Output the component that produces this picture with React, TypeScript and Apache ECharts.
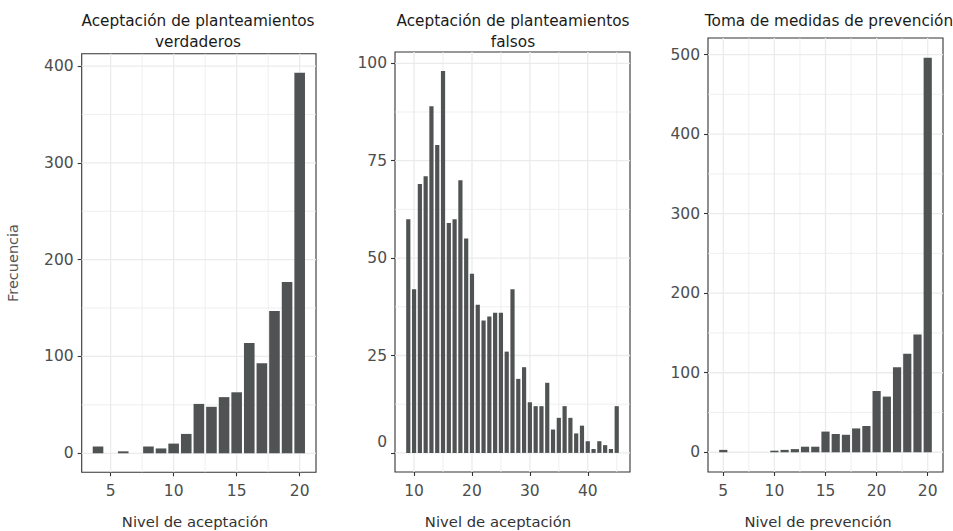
import { useEffect, useRef } from "react";
import * as echarts from "echarts";

const FONT = "DejaVu Sans";

// Panel 1: Aceptación de planteamientos verdaderos
const p1X = [4, 6, 8, 9, 10, 11, 12, 13, 14, 15, 16, 17, 18, 19, 20];
const p1Y = [7, 2, 7, 5, 10, 20, 51, 48, 58, 63, 114, 93, 147, 177, 393];
const p1XTicks = [5, 10, 15, 20];
const p1XLabels = ["5", "10", "15", "20"];
const p1XMinor = [7.5, 12.5, 17.5];
const p1YTicks = [0, 100, 200, 300, 400];
const p1YMinor = [50, 150, 250, 350];

// Panel 2: Aceptación de planteamientos falsos
const p2X = [9, 10, 11, 12, 13, 14, 15, 16, 17, 18, 19, 20, 21, 22, 23, 24, 25, 26, 27, 28, 29, 30, 31, 32, 33, 34, 35, 36, 37, 38, 39, 40, 41, 42, 43, 44, 45];
const p2Y = [60, 42, 69, 71, 89, 79, 98, 59, 60, 70, 55, 46, 38, 34, 35, 36, 36, 26, 42, 19, 22, 13, 12, 12, 18, 6, 9, 12, 9, 5, 7, 3, 1, 3, 2, 1, 12];
const p2XTicks = [10, 20, 30, 40];
const p2XLabels = ["10", "20", "30", "40"];
const p2XMinor = [15, 25, 35, 45];
const p2YTicks = [0, 25, 50, 75, 100];
const p2YMinor = [12.5, 37.5, 62.5, 87.5];

// Panel 3: Toma de medidas de prevención
const p3X = [5, 10, 11, 12, 13, 14, 15, 16, 17, 18, 19, 20, 21, 22, 23, 24, 25];
const p3Y = [3, 2, 3, 4, 7, 7, 26, 23, 22, 30, 33, 77, 70, 107, 124, 148, 496];
const p3XTicks = [5, 10, 15, 20, 25];
const p3XLabels = ["5", "10", "15", "20", "20"];
const p3XMinor = [7.5, 12.5, 17.5, 22.5];
const p3YTicks = [0, 100, 200, 300, 400, 500];
const p3YMinor = [50, 150, 250, 350, 450];

const titles1 = ["Aceptación de planteamientos", "verdaderos"];
const titles2 = ["Aceptación de planteamientos", "falsos"];
const titles3 = ["Toma de medidas de prevención"];
const xNames = ["Nivel de aceptación", "Nivel de aceptación", "Nivel de prevención"];
const yName = "Frecuencia";

const BAR = "#505353";
const GRID = "#ebebeb";
const DARK = "#333333";
const TICKTXT = "#4d4d4d";
const TICKSIZE = 15.5;

type Panel = {
  x: number[]; y: number[];
  xTicks: number[]; xLabels: string[]; xMinor: number[];
  yTicks: number[]; yMinor: number[];
  grid: { left: number; top: number; width: number; height: number };
  barWidth: number;
  liftZero?: boolean;
};

const panels: Panel[] = [
  { x: p1X, y: p1Y, xTicks: p1XTicks, xLabels: p1XLabels, xMinor: p1XMinor, yTicks: p1YTicks, yMinor: p1YMinor,
    grid: { left: 81.7, top: 53.8, width: 234.3, height: 418.5 }, barWidth: 10.6 },
  { x: p2X, y: p2Y, xTicks: p2XTicks, xLabels: p2XLabels, xMinor: p2XMinor, yTicks: p2YTicks, yMinor: p2YMinor,
    grid: { left: 395, top: 52, width: 235, height: 420 }, barWidth: 4.2, liftZero: true },
  { x: p3X, y: p3Y, xTicks: p3XTicks, xLabels: p3XLabels, xMinor: p3XMinor, yTicks: p3YTicks, yMinor: p3YMinor,
    grid: { left: 708, top: 38, width: 235, height: 434 }, barWidth: 8.2 },
];

function expand(lo: number, hi: number): [number, number] {
  const d = hi - lo;
  return [lo - d * 0.05, hi + d * 0.05];
}

export default function App() {
  const ref = useRef<HTMLDivElement>(null);
  useEffect(() => {
    if (!ref.current) return;
    const chart = echarts.init(ref.current, undefined, { renderer: "svg" });
    const grids: any[] = [];
    const xAxes: any[] = [];
    const yAxes: any[] = [];
    const series: any[] = [];

    panels.forEach((p, i) => {
      const [xmin, xmax] = expand(Math.min(...p.x) - 0.45, Math.max(...p.x) + 0.45);
      const [ymin, ymax] = expand(0, Math.max(...p.y));
      grids.push({ ...p.grid, show: true, borderColor: DARK, borderWidth: 1.1, backgroundColor: "#fff", containLabel: false });
      xAxes.push({
        type: "value", gridIndex: i, min: xmin, max: xmax,
        axisLine: { show: false, onZero: false },
        splitLine: { show: false },
        axisTick: { show: true, customValues: p.xTicks, length: 4, lineStyle: { color: DARK, width: 1.1 } },
        axisLabel: {
          customValues: p.xTicks, margin: 11,
          formatter: (v: number) => p.xLabels[p.xTicks.indexOf(v)] ?? "",
          fontFamily: FONT, fontSize: TICKSIZE, color: TICKTXT,
        },
      });
      yAxes.push({
        type: "value", gridIndex: i, min: ymin, max: ymax,
        axisLine: { show: false, onZero: false },
        splitLine: { show: false },
        axisTick: { show: true, customValues: p.yTicks, length: 4, lineStyle: { color: DARK, width: 1.1 } },
        axisLabel: {
          customValues: p.yTicks, margin: 8,
          formatter: (v: number) => (p.liftZero && v === 0 ? "{lift|0}" : String(v)),
          rich: { lift: { padding: [0, 0, 22, 0], fontFamily: FONT, fontSize: TICKSIZE, color: TICKTXT } },
          fontFamily: FONT, fontSize: TICKSIZE, color: TICKTXT,
        },
      });
      // vertical grid lines
      const vData = [...p.xMinor.map((v) => [v, 0]), ...p.xTicks.map((v) => [v, 1])];
      series.push({
        type: "custom", xAxisIndex: i, yAxisIndex: i, z: 1, silent: true,
        data: vData,
        renderItem: (_params: any, api: any) => {
          const x = api.value(0);
          const major = api.value(1) === 1;
          const a = api.coord([x, ymin]);
          const b = api.coord([x, ymax]);
          return { type: "line", shape: { x1: a[0], y1: a[1], x2: b[0], y2: b[1] },
            style: { stroke: GRID, lineWidth: major ? 1.3 : 0.8 } };
        },
      });
      const hData = [...p.yMinor.map((v) => [v, 0]), ...p.yTicks.map((v) => [v, 1])];
      series.push({
        type: "custom", xAxisIndex: i, yAxisIndex: i, z: 1, silent: true,
        data: hData,
        encode: { x: 1, y: 0 },
        renderItem: (_params: any, api: any) => {
          const y = api.value(0);
          const major = api.value(1) === 1;
          const a = api.coord([xmin, y]);
          const b = api.coord([xmax, y]);
          return { type: "line", shape: { x1: a[0], y1: a[1], x2: b[0], y2: b[1] },
            style: { stroke: GRID, lineWidth: major ? 1.3 : 0.8 } };
        },
      });
      series.push({
        type: "bar", xAxisIndex: i, yAxisIndex: i, z: 3,
        data: p.x.map((x, k) => [x, p.y[k]]),
        barWidth: p.barWidth,
        itemStyle: { color: BAR },
      });
    });

    const txt = (text: string, x: number, y: number, size: number, color: string, rotation = 0) => ({
      type: "text", x, y, rotation,
      style: { text, align: "center", verticalAlign: "middle", fontFamily: FONT, fontSize: size, fill: color },
    });

    const graphic: any[] = [
      txt(titles1[0], 198, 21, 15.3, "#1a1a1a"),
      txt(titles1[1], 198, 42, 15.3, "#1a1a1a"),
      txt(titles2[0], 513, 21, 15.3, "#1a1a1a"),
      txt(titles2[1], 513, 42, 15.3, "#1a1a1a"),
      txt(titles3[0], 829, 21, 15.3, "#1a1a1a"),
      txt(xNames[0], 195, 521, 14.8, "#333333"),
      txt(xNames[1], 498, 521, 14.8, "#333333"),
      txt(xNames[2], 818, 521, 14.8, "#333333"),
      txt(yName, 13, 263, 14.5, "#555555", Math.PI / 2),
    ];

    chart.setOption({
      animation: false,
      backgroundColor: "#ffffff",
      grid: grids,
      xAxis: xAxes,
      yAxis: yAxes,
      series,
      graphic,
    });
    return () => chart.dispose();
  }, []);
  return <div ref={ref} style={{ position: "absolute", left: 0, top: 0, width: 953, height: 531 }} />;
}
